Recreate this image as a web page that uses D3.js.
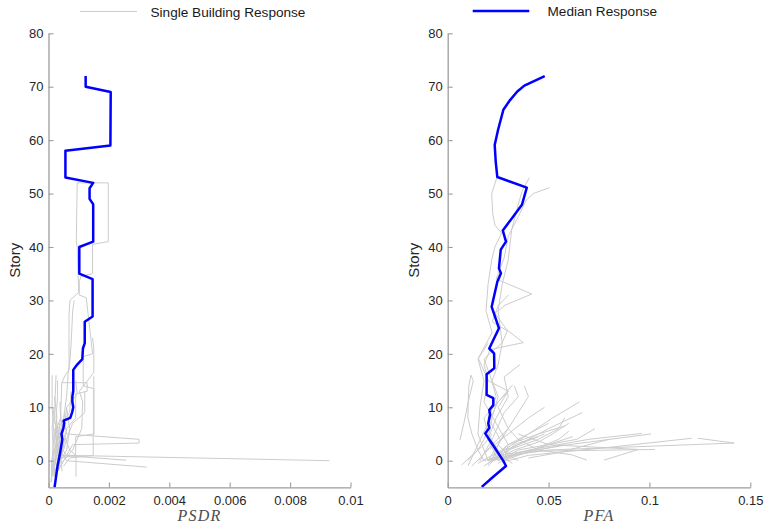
<!DOCTYPE html>
<html><head><meta charset="utf-8">
<script src="https://cdn.jsdelivr.net/npm/d3@7"></script>
<style>
html,body{margin:0;padding:0;background:#fff;}
svg{display:block;}
.tick text{font-family:"Liberation Sans",Arial,Helvetica,sans-serif;font-size:13px;fill:#262626;}
</style></head>
<body><svg id="chart" width="764" height="527"></svg>
<script>
// ---------------- DATA ----------------
const yTicks = [0,10,20,30,40,50,60,70,80];
const psdrTicks = [0,0.002,0.004,0.006,0.008,0.01];
const psdrTickLabels = ["0","0.002","0.004","0.006","0.008","0.01"];
const pfaTicks = [0,0.05,0.1,0.15];
const pfaTickLabels = ["0","0.05","0.1","0.15"];
const legendLabels = ["Single Building Response","Median Response"];
const axisLabels = ["PSDR","PFA","Story"];

// median PSDR profile
const medianPsdrStory = [-5,-3,-1,1,2,4,5,6,7,7.5,8,9,10,11,12,13,17,18,19,21,22,26,27,34,35,40,41,48,49,51,52,53,58,59,69,70,72];
const medianPsdrValue = [0.0002,0.00025,0.0003,0.00037,0.0004,0.00046,0.00043,0.00049,0.00052,0.0005,0.00072,0.00078,0.00082,0.00079,0.00079,0.00082,0.00082,0.00095,0.00112,0.00114,0.0012,0.0012,0.00146,0.00146,0.00102,0.00102,0.00148,0.00148,0.00136,0.00136,0.00148,0.00056,0.00056,0.00205,0.00206,0.00123,0.00123];

// median PFA profile
const medianPfaStory = [-4.9,-3,-1,0,1,2.6,4,5.1,6.1,7,8.6,9.5,10.4,11.7,12.3,16.2,17.3,20.1,21,24.8,28.8,33.5,35.1,36,39.5,41,43.1,45.7,47.9,51.1,53.1,56,59.1,62,65.7,67.5,69.1,70.2,72];
const medianPfaValue = [0.0169,0.0226,0.0289,0.0275,0.0258,0.023,0.0205,0.0186,0.0206,0.0201,0.021,0.0206,0.0226,0.0226,0.0193,0.0193,0.0231,0.023,0.0206,0.0254,0.0218,0.0246,0.0264,0.0254,0.0263,0.0289,0.0273,0.0325,0.0368,0.0392,0.0246,0.0238,0.0233,0.025,0.0276,0.0309,0.0345,0.038,0.0481];

// single building PSDR profiles: [story, value]
const psdrBuildings = [
  [[52,0.00095],[52,0.00198],[41,0.00198],[40.5,0.00146],[35,0.00146],[34.5,0.00107],[33.5,0.00102],[31,0.00102],[30.5,0.00125],[20,0.00146],[19.5,0.00115],[14,0.00115],[13.5,0.0015],[5,0.0015],[4.5,0.0009],[1,0.0009],[0.5,0.0004],[-2,0.0003]],
  [[52,0.00095],[41,0.00092],[40,0.00095],[31.5,0.001],[30,0.00071],[27.5,0.00068],[17,0.00068],[16,0.00055],[14.5,0.00044],[8,0.0004],[3,0.0003],[0,0.0002],[-3,0.00015]],
  [[30,0.00085],[28,0.0008],[22,0.00075],[18,0.0007],[16.4,0.00065],[12,0.0006],[8,0.0005],[4,0.0004],[0,0.0003],[-3,0.0002]],
  [[23,0.00146],[21,0.0015],[16.5,0.0015],[13,0.00102],[11,0.00113],[6,0.0011],[2,0.0008],[0,0.0005],[-2,0.0003]],
  [[16,0.00012],[10,0.00012],[5,0.00018],[0,0.00012],[-4,0.0001]],
  [[15,0.0003],[12,0.0003],[8,0.00025],[3,0.0004],[0,0.0003],[-3,0.0002]],
  [[14.6,0.00043],[14.6,0.00128],[13,0.00128],[12.5,0.0009],[8,0.0009],[6,0.0006],[3,0.0005],[0,0.0004],[-2,0.0003]],
  [[15.8,0.0015],[5,0.0015],[4.5,0.00148],[1,0.00148],[0.5,0.0007],[-1,0.0005]],
  [[13,0.0012],[9,0.0012],[7,0.0008],[4,0.0006],[2,0.0005],[0,0.0003]],
  [[11,0.00038],[8,0.0004],[5,0.0002],[2,0.00035],[0,0.0002],[-3,0.0002]],
  [[9,0.0004],[6,0.00045],[3,0.00035],[1,0.0006],[0,0.0093]],
  [[8,0.0005],[5,0.0006],[4,0.003],[3.3,0.003],[3,0.0008],[0,0.0005],[-2,0.0003]],
  [[6,0.0003],[2,0.0004],[0,0.0006],[-1.2,0.00325]],
  [[7,0.00035],[3,0.0005],[1,0.0004],[0.1,0.00257]],
  [[5,0.0005],[2,0.0007],[1,0.00091],[-3,0.00091]],
  [[16,0.00025],[12,0.00022],[8,0.0002],[4,0.0003],[0,0.0001],[-4,0.0001]],
  [[10,0.0006],[7,0.00055],[4,0.00025],[1,0.00028],[-2,0.0001]],
  [[13,0.00075],[9,0.0007],[6,0.0003],[3,0.00025],[0,0.00035],[-3,0.00025]],
  [[8,0.00015],[5,0.00035],[2,0.0002],[-1,0.00015],[-4,0.00008]],
  [[15,0.0009],[12.5,0.00095],[10,0.0006],[6,0.0007],[2,0.0006],[0,0.0004]],
  [[12,0.0002],[8,0.00028],[4,0.0002],[0,0.00025],[-3,0.0001]],
  [[9,0.00055],[5,0.0004],[2,0.0003],[-1,0.0002]],
  [[6,0.0002],[3,0.0003],[1,0.0004],[-2,0.00045]],
  [[10,0.00018],[6,0.00012],[2,0.00016],[-2,0.00014]]
];

// single building PFA profiles: [story, value]
const pfaBuildings = [
  [[53,0.0405],[50.4,0.0368],[47,0.0343],[43.2,0.0317],[37.6,0.03],[33,0.027],[28,0.025],[22,0.027],[18,0.025],[15,0.022],[12,0.025],[8,0.022],[4,0.02],[1,0.025],[-1,0.02]],
  [[51.1,0.0504],[50,0.0424],[48.8,0.039],[45.7,0.035],[42,0.03],[38,0.028],[34,0.024],[31.2,0.0417],[29.1,0.0284],[27.6,0.0235],[24.5,0.0293],[22.1,0.0375],[20.8,0.021],[18,0.018],[15,0.02],[13,0.03],[10,0.025],[6,0.03],[3,0.025],[0,0.02]],
  [[52.9,0.0243],[50,0.0218],[46.3,0.0223],[44.1,0.0234],[42.6,0.0267],[40,0.0234],[37.6,0.0218],[33,0.02],[28,0.019],[24,0.022],[19.2,0.0152],[15,0.02],[11,0.018],[7,0.024],[3,0.03],[0,0.028]],
  [[31,0.03],[29,0.025],[26,0.022],[24.3,0.0296],[22.1,0.027],[19,0.018],[16,0.021],[12,0.024],[8,0.02],[4,0.026],[0,0.022]],
  [[16,0.0115],[14,0.0105],[11.4,0.0102],[8,0.01],[5,0.012],[2,0.015],[0,0.018]],
  [[-0.5,0.02],[2,0.028],[5,0.04],[8,0.052],[11,0.0653]],
  [[-1,0.018],[2,0.03],[6,0.05],[9,0.0667]],
  [[0,0.025],[2,0.035],[4,0.064],[6,0.073]],
  [[0,0.022],[2,0.04],[4,0.07],[5.1,0.0962]],
  [[-0.5,0.025],[1.5,0.035],[3,0.06],[5,0.1008]],
  [[0,0.03],[1,0.04],[2.5,0.08],[4.2,0.121]],
  [[0,0.02],[1,0.03],[2,0.05],[3.3,0.142],[4.2,0.124]],
  [[0,0.022],[1.5,0.04],[1.8,0.047],[2.1,0.1027]],
  [[0.1,0.0775],[2.1,0.0945],[3,0.05],[5,0.035]],
  [[0.1,0.069],[1.1,0.0615],[2,0.045],[4,0.035],[6,0.03]],
  [[0,0.02],[3,0.03],[5,0.045],[6.5,0.058]],
  [[-1,0.012],[2,0.02],[5,0.03],[8,0.04],[10,0.048]],
  [[0,0.015],[3,0.022],[6,0.03],[9,0.035],[12,0.04],[14,0.038]],
  [[-0.8,0.0069],[1,0.012],[3,0.018],[5,0.022]],
  [[3.9,0.0061],[7,0.008],[11,0.0102],[15,0.0127],[16,0.0115]],
  [[0,0.03],[2,0.025],[5,0.02],[8,0.018],[11,0.025],[14.2,0.0322]],
  [[0,0.025],[4,0.02],[8,0.024],[12,0.03],[15.7,0.028],[18,0.0359]],
  [[-1,0.02],[1,0.025],[3,0.03],[5,0.04],[7,0.05]],
  [[0,0.035],[1,0.03],[3,0.025],[5,0.028]],
  [[-0.5,0.032],[1,0.025],[2,0.042],[4,0.055],[5.5,0.06]],
  [[0,0.01],[2,0.015],[4,0.018],[6,0.02],[10,0.022]],
  [[0,0.018],[1,0.028],[3,0.033],[4.5,0.045]],
  [[0,0.02],[2,0.03],[4,0.045],[6,0.055],[8,0.058]],
  [[0,0.028],[1,0.035],[3,0.05],[4.5,0.062]],
  [[-0.5,0.015],[1,0.022],[3,0.035],[5,0.048]],
  [[0,0.022],[2,0.033],[3.5,0.045],[5,0.052],[7,0.06]],
  [[0.5,0.04],[1.5,0.055],[3,0.07],[4,0.08]],
  [[0,0.025],[1,0.032],[2,0.045],[3,0.058]],
  [[-1,0.01],[3,0.015],[7,0.02],[11,0.025],[13,0.03]],
  [[0,0.016],[4,0.022],[9,0.028],[12,0.035],[14,0.033]],
  [[0,0.02],[5,0.015],[10,0.016],[15,0.018],[19,0.015],[22,0.02]]
];

// ---------------- DRAW ----------------
const svg = d3.select("#chart");
const Y0 = 487.4, Y1 = 33.3;
const y = d3.scaleLinear().domain([-5,80]).range([Y0,Y1]);
const panels = [
  {x: d3.scaleLinear().domain([0,0.01]).range([48.5,350.5]), ticks: psdrTicks, labels: psdrTickLabels,
   lines: psdrBuildings, medS: medianPsdrStory, medV: medianPsdrValue, xlabel: axisLabels[0]},
  {x: d3.scaleLinear().domain([0,0.15]).range([447.7,750.3]), ticks: pfaTicks, labels: pfaTickLabels,
   lines: pfaBuildings, medS: medianPfaStory, medV: medianPfaValue, xlabel: axisLabels[1]}
];
const axisColor = "#9d9d9d";

panels.forEach((p,i) => {
  const g = svg.append("g");
  const line = d3.line().x(d => p.x(d[1])).y(d => y(d[0]));
  g.selectAll("path.bld").data(p.lines).enter().append("path")
    .attr("d", line).attr("fill","none").attr("stroke","#cccccc").attr("stroke-width",1);
  const med = p.medS.map((s,k) => [s, p.medV[k]]);
  g.append("path").datum(med).attr("d", line).attr("fill","none")
    .attr("stroke","#0000ff").attr("stroke-width",2.5).attr("stroke-linejoin","round");

  const ax = d3.axisBottom(p.x).tickValues(p.ticks).tickFormat((d,k)=>p.labels[k])
    .tickSizeInner(-5).tickSizeOuter(0).tickPadding(8);
  const ga = svg.append("g").attr("transform",`translate(0,${Y0})`).call(ax);
  const ay = d3.axisLeft(y).tickValues(yTicks).tickFormat(d3.format("d"))
    .tickSizeInner(-5).tickSizeOuter(0).tickPadding(5);
  const gy = svg.append("g").attr("transform",`translate(${p.x.range()[0]},0)`).call(ay);
  [ga,gy].forEach(a => {
    a.select(".domain").attr("stroke",axisColor).attr("stroke-width",1.3);
    a.selectAll(".tick line").attr("stroke",axisColor).attr("stroke-width",1.1);
  });

  const xr = p.x.range();
  svg.append("text").attr("x",(xr[0]+xr[1])/2).attr("y",521)
    .attr("text-anchor","middle")
    .attr("font-family","'Liberation Serif','DejaVu Serif',serif").attr("font-style","italic")
    .attr("font-size",16).attr("letter-spacing",1.2).attr("fill","#4d4d4d").text(p.xlabel);
  svg.append("text").attr("transform",`translate(${xr[0]-29},${(Y0+Y1)/2}) rotate(-90)`)
    .attr("text-anchor","middle")
    .attr("font-family","'Liberation Sans',Arial,sans-serif").attr("font-size",15)
    .attr("fill","#262626").text(axisLabels[2]);
});

svg.append("line").attr("x1",80).attr("x2",137).attr("y1",11.5).attr("y2",11.5)
  .attr("stroke","#cccccc").attr("stroke-width",1);
svg.append("text").attr("x",150.5).attr("y",16.5)
  .attr("font-family","'Liberation Sans',Arial,sans-serif").attr("font-size",13.6)
  .attr("fill","#1a1a1a").text(legendLabels[0]);
svg.append("line").attr("x1",472.7).attr("x2",529.3).attr("y1",11).attr("y2",11)
  .attr("stroke","#0000ff").attr("stroke-width",2.5);
svg.append("text").attr("x",547.5).attr("y",16)
  .attr("font-family","'Liberation Sans',Arial,sans-serif").attr("font-size",13.6)
  .attr("fill","#1a1a1a").text(legendLabels[1]);
</script>
</body></html>
